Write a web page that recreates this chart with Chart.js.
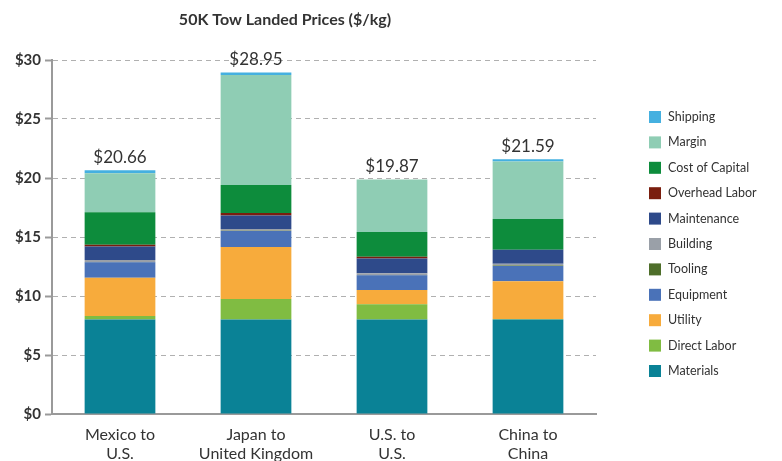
<!DOCTYPE html>
<html>
<head>
<meta charset="utf-8">
<script src="https://cdn.jsdelivr.net/npm/chart.js@4/dist/chart.umd.min.js"></script>
<style>
  html, body { margin: 0; padding: 0; background: #fff; }
  #wrap { width: 782px; height: 461px; }
</style>
</head>
<body>
<div id="wrap"><canvas id="myChart" width="782" height="461"></canvas></div>
<script>
const categories = [['Mexico to', 'U.S.'], ['Japan to', 'United Kingdom'], ['U.S. to', 'U.S.'], ['China to', 'China']];
const totals = [20.66, 28.95, 19.87, 21.59];
const yTicks = [0, 5, 10, 15, 20, 25, 30];

// stack order bottom -> top
const materials     = [8.00, 8.00, 8.00, 8.00];
const directLabor   = [0.30, 1.75, 1.30, 0.05];
const utility       = [3.25, 4.40, 1.20, 3.20];
const equipment     = [1.30, 1.35, 1.25, 1.30];
const tooling       = [0.03, 0.03, 0.03, 0.03];
const building      = [0.17, 0.15, 0.14, 0.15];
const maintenance   = [1.15, 1.15, 1.25, 1.20];
const overheadLabor = [0.14, 0.20, 0.15, 0.00];
const costOfCapital = [2.75, 2.38, 2.10, 2.60];
const margin        = [3.31, 9.32, 4.45, 4.86];
const shipping      = [0.26, 0.22, 0.00, 0.20];

const series = [
    ['Materials', materials, '#0a8296'],
    ['Direct Labor', directLabor, '#80bc42'],
    ['Utility', utility, '#f7ab3c'],
    ['Equipment', equipment, '#4a72b8'],
    ['Tooling', tooling, '#4e6e2a'],
    ['Building', building, '#9aa0a8'],
    ['Maintenance', maintenance, '#2e4a8a'],
    ['Overhead Labor', overheadLabor, '#7a1e0e'],
    ['Cost of Capital', costOfCapital, '#0d8c3c'],
    ['Margin', margin, '#8fcdb4'],
    ['Shipping', shipping, '#45b0e0'],
];

const textColor = '#333333';
const fontFamily = 'Lato, "Noto Sans", sans-serif';

// title, value labels and right legend
const extras = {
    id: 'extras',
    afterDraw(chart) {
        const ctx = chart.ctx;
        const x = chart.scales.x, y = chart.scales.y;
        ctx.save();
        ctx.fillStyle = textColor;
        ctx.textAlign = 'center';
        ctx.textBaseline = 'middle';
        ctx.font = 'bold 16px ' + fontFamily;
        ctx.fillText('50K Tow Landed Prices ($/kg)', 285, 20);

        ctx.font = '17px ' + fontFamily;
        totals.forEach((t, i) => {
            ctx.fillText('$' + t.toFixed(2), x.getPixelForValue(i), y.getPixelForValue(t) - 13);
        });

        ctx.textAlign = 'left';
        ctx.font = '12.5px ' + fontFamily;
        const items = chart.data.datasets.slice().reverse();
        items.forEach((ds, i) => {
            const cy = 117 + i * 25.4;
            ctx.fillStyle = ds.backgroundColor;
            ctx.fillRect(649, cy - 6, 12, 12);
            ctx.fillStyle = textColor;
            ctx.fillText(ds.label, 668, cy);
        });
        ctx.restore();
    }
};

const ctx = document.getElementById('myChart').getContext('2d');
const myChart = new Chart(ctx, {
    type: 'bar',
    data: {
        labels: categories,
        datasets: series.map(s => ({
            label: s[0],
            data: s[1],
            backgroundColor: s[2],
            borderWidth: 0,
            barPercentage: 0.52,
            categoryPercentage: 1
        }))
    },
    options: {
        responsive: false,
        animation: false,
        layout: { padding: { top: 60, right: 186, bottom: 0, left: 0 } },
        plugins: {
            legend: { display: false },
            title: { display: false },
            tooltip: { enabled: false }
        },
        scales: {
            x: {
                stacked: true,
                afterFit(scale) { scale.height = 47; },
                grid: { display: false },
                border: { color: '#9a9a9a', width: 2 },
                ticks: { color: textColor, font: { family: fontFamily, size: 16, lineHeight: 1.15 }, padding: 4 }
            },
            y: {
                stacked: true,
                min: 0,
                max: 30,
                afterFit(scale) { scale.width = 52; },
                afterBuildTicks(scale) { scale.ticks = yTicks.map(v => ({ value: v })); },
                grid: { color: '#b0b0b0', tickLength: 7, tickColor: '#9a9a9a', tickWidth: 2, tickBorderDash: [] },
                border: { color: '#9a9a9a', width: 2, dash: [5, 4] },
                ticks: {
                    color: textColor,
                    font: { family: fontFamily, size: 15, weight: 'bold' },
                    padding: 4,
                    callback: v => '$' + v
                }
            }
        }
    },
    plugins: [extras]
});
</script>
</body>
</html>
